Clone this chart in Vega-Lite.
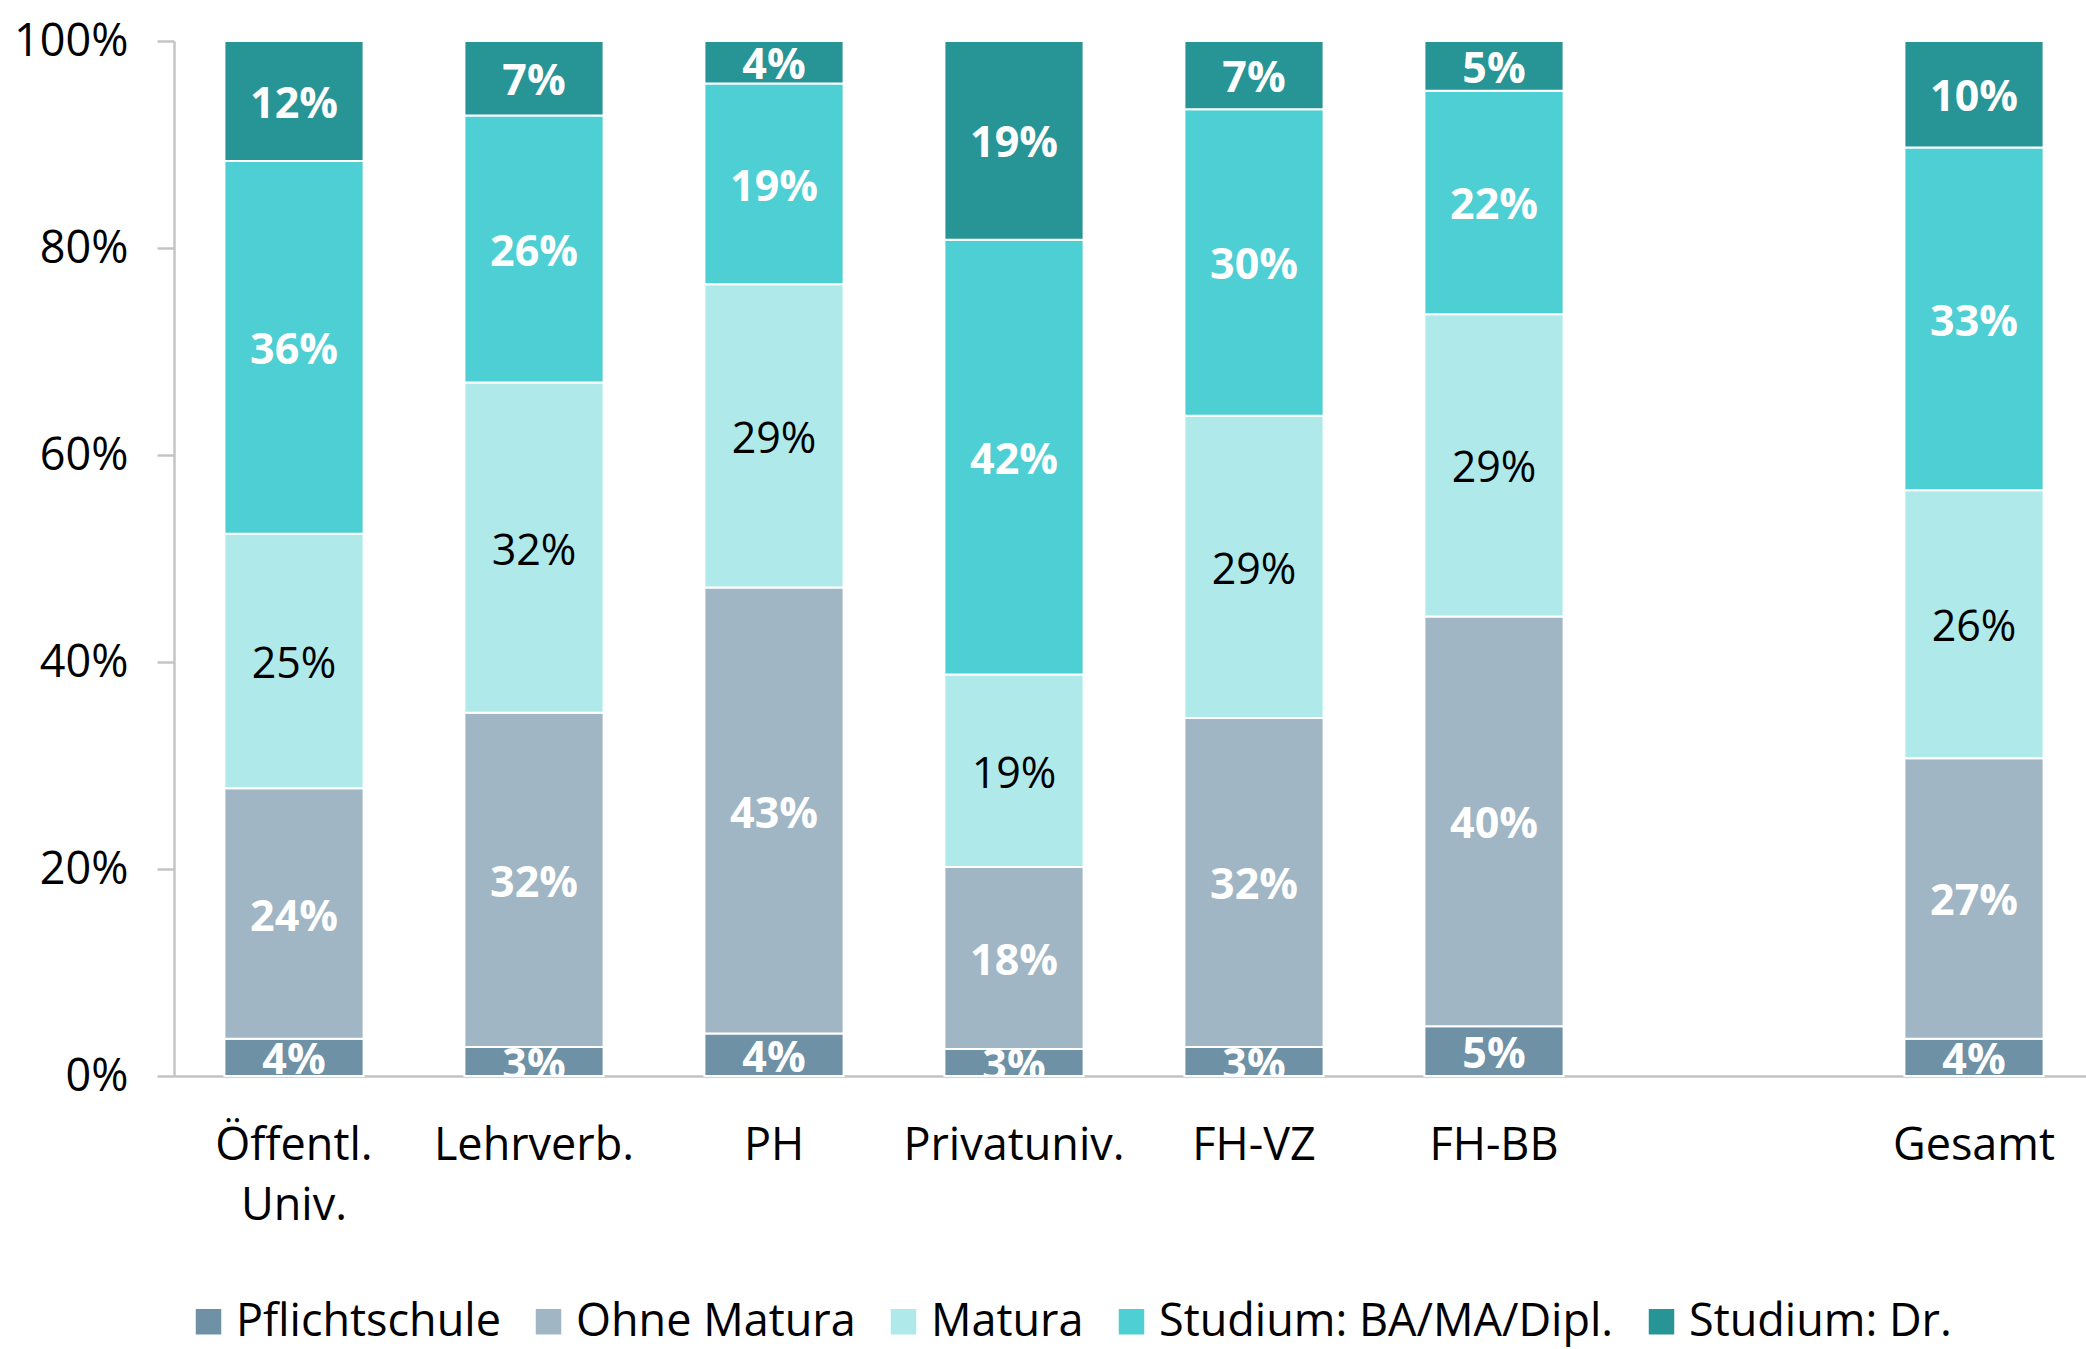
{
  "$schema": "https://vega.github.io/schema/vega-lite/v6.json",
  "width": 1912,
  "height": 1035,
  "autosize": "none",
  "padding": {"left": 174, "top": 41, "right": 0, "bottom": 273},
  "config": {"view": {"stroke": null}, "font": "Open Sans"},
  "data": {
    "values": [
      {"cat": "Öffentl. Univ.", "level": "Pflichtschule", "rank": 1, "share": 0.036},
      {"cat": "Öffentl. Univ.", "level": "Ohne Matura", "rank": 2, "share": 0.242},
      {"cat": "Öffentl. Univ.", "level": "Matura", "rank": 3, "share": 0.246},
      {"cat": "Öffentl. Univ.", "level": "Studium: BA/MA/Dipl.", "rank": 4, "share": 0.360},
      {"cat": "Öffentl. Univ.", "level": "Studium: Dr.", "rank": 5, "share": 0.116},
      {"cat": "Lehrverb.", "level": "Pflichtschule", "rank": 1, "share": 0.028},
      {"cat": "Lehrverb.", "level": "Ohne Matura", "rank": 2, "share": 0.323},
      {"cat": "Lehrverb.", "level": "Matura", "rank": 3, "share": 0.319},
      {"cat": "Lehrverb.", "level": "Studium: BA/MA/Dipl.", "rank": 4, "share": 0.258},
      {"cat": "Lehrverb.", "level": "Studium: Dr.", "rank": 5, "share": 0.072},
      {"cat": "PH", "level": "Pflichtschule", "rank": 1, "share": 0.041},
      {"cat": "PH", "level": "Ohne Matura", "rank": 2, "share": 0.431},
      {"cat": "PH", "level": "Matura", "rank": 3, "share": 0.293},
      {"cat": "PH", "level": "Studium: BA/MA/Dipl.", "rank": 4, "share": 0.194},
      {"cat": "PH", "level": "Studium: Dr.", "rank": 5, "share": 0.041},
      {"cat": "Privatuniv.", "level": "Pflichtschule", "rank": 1, "share": 0.026},
      {"cat": "Privatuniv.", "level": "Ohne Matura", "rank": 2, "share": 0.176},
      {"cat": "Privatuniv.", "level": "Matura", "rank": 3, "share": 0.186},
      {"cat": "Privatuniv.", "level": "Studium: BA/MA/Dipl.", "rank": 4, "share": 0.420},
      {"cat": "Privatuniv.", "level": "Studium: Dr.", "rank": 5, "share": 0.192},
      {"cat": "FH-VZ", "level": "Pflichtschule", "rank": 1, "share": 0.028},
      {"cat": "FH-VZ", "level": "Ohne Matura", "rank": 2, "share": 0.318},
      {"cat": "FH-VZ", "level": "Matura", "rank": 3, "share": 0.292},
      {"cat": "FH-VZ", "level": "Studium: BA/MA/Dipl.", "rank": 4, "share": 0.296},
      {"cat": "FH-VZ", "level": "Studium: Dr.", "rank": 5, "share": 0.066},
      {"cat": "FH-BB", "level": "Pflichtschule", "rank": 1, "share": 0.048},
      {"cat": "FH-BB", "level": "Ohne Matura", "rank": 2, "share": 0.396},
      {"cat": "FH-BB", "level": "Matura", "rank": 3, "share": 0.292},
      {"cat": "FH-BB", "level": "Studium: BA/MA/Dipl.", "rank": 4, "share": 0.216},
      {"cat": "FH-BB", "level": "Studium: Dr.", "rank": 5, "share": 0.048},
      {"cat": "Gesamt", "level": "Pflichtschule", "rank": 1, "share": 0.036},
      {"cat": "Gesamt", "level": "Ohne Matura", "rank": 2, "share": 0.271},
      {"cat": "Gesamt", "level": "Matura", "rank": 3, "share": 0.259},
      {"cat": "Gesamt", "level": "Studium: BA/MA/Dipl.", "rank": 4, "share": 0.331},
      {"cat": "Gesamt", "level": "Studium: Dr.", "rank": 5, "share": 0.103}
    ]
  },
  "transform": [
    {"stack": "share", "groupby": ["cat"], "sort": [{"field": "rank", "order": "ascending"}], "as": ["y0", "y1"]},
    {"calculate": "(datum.y0 + datum.y1) / 2", "as": "ymid"}
  ],
  "encoding": {
    "x": {
      "field": "cat",
      "type": "nominal",
      "sort": null,
      "scale": {
        "domain": ["Öffentl. Univ.", "Lehrverb.", "PH", "Privatuniv.", "FH-VZ", "FH-BB", " ", "Gesamt"],
        "range": [0, 1920],
        "paddingInner": 0.42,
        "paddingOuter": 0.21
      },
      "axis": {
        "title": null,
        "labelAngle": 0,
        "labelFontSize": 45,
        "labelColor": "#000000",
        "labelPadding": 47,
        "labelLineHeight": 60,
        "labelLimit": 1000,
        "labelExpr": "split(datum.label, ' ')",
        "ticks": false,
        "tickSize": 0,
        "domainColor": "#C4C4C4",
        "domainWidth": 2.5,
        "grid": false
      }
    }
  },
  "layer": [
    {
      "mark": {"type": "bar", "stroke": "white", "strokeWidth": 2},
      "encoding": {
        "y": {
          "field": "y0",
          "type": "quantitative",
          "scale": {"domain": [0, 1]},
          "axis": {
            "title": null,
            "values": [0, 0.2, 0.4, 0.6, 0.8, 1],
            "format": ".0%",
            "labelFontSize": 45,
            "labelColor": "#000000",
            "labelPadding": 29,
            "tickSize": 17,
            "tickWidth": 2.5,
            "tickColor": "#C4C4C4",
            "domainColor": "#C4C4C4",
            "domainWidth": 2.5,
            "grid": false
          }
        },
        "y2": {"field": "y1"},
        "color": {
          "field": "level",
          "type": "nominal",
          "scale": {
            "domain": ["Pflichtschule", "Ohne Matura", "Matura", "Studium: BA/MA/Dipl.", "Studium: Dr."],
            "range": ["#6E91A6", "#A0B6C4", "#B0E9EA", "#4ECFD3", "#279496"]
          },
          "legend": {
            "title": null,
            "orient": "none",
            "direction": "horizontal",
            "legendX": 12,
            "legendY": 1258,
            "symbolType": "square",
            "symbolSize": 650,
            "symbolStrokeWidth": 0,
            "labelFontSize": 45,
            "labelColor": "#000000",
            "labelOffset": 5,
            "columnPadding": 25,
            "labelLimit": 700
          }
        }
      }
    },
    {
      "transform": [{"filter": "datum.level !== 'Matura'"}],
      "mark": {"type": "text", "clip": true, "fontWeight": "bold", "fontSize": 43, "color": "white", "baseline": "middle", "dy": 4},
      "encoding": {
        "y": {"field": "ymid", "type": "quantitative"},
        "text": {"field": "share", "type": "quantitative", "format": ".0%"}
      }
    },
    {
      "transform": [{"filter": "datum.level === 'Matura'"}],
      "mark": {"type": "text", "clip": true, "fontWeight": "normal", "fontSize": 43, "color": "black", "baseline": "middle", "dy": 4},
      "encoding": {
        "y": {"field": "ymid", "type": "quantitative"},
        "text": {"field": "share", "type": "quantitative", "format": ".0%"}
      }
    }
  ]
}
